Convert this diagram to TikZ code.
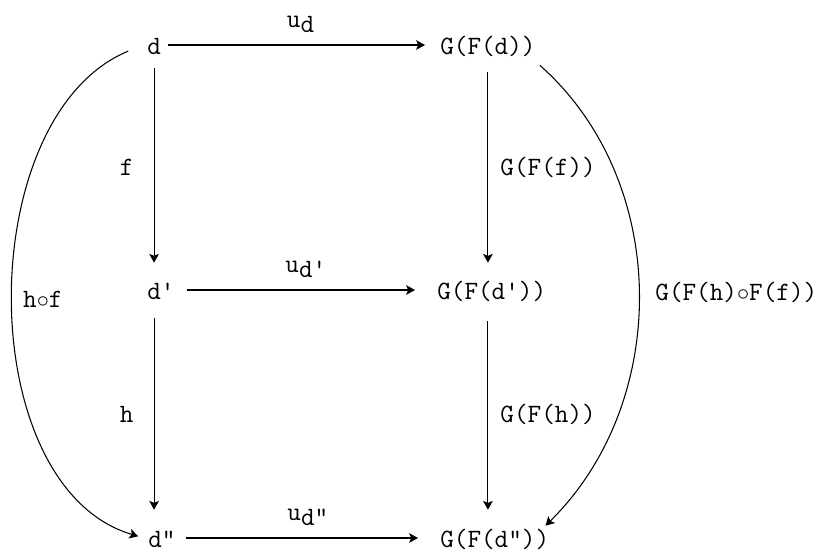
\documentclass[tikz,border=0pt]{standalone}
\usepackage{fontspec}
\usetikzlibrary{arrows.meta}

\begin{document}
\begin{tikzpicture}[font=\ttfamily\fontsize{18.8}{22}\selectfont,
  obj/.style={inner sep=0.1cm,text height=0.65cm,text depth=0.15cm,anchor=west},
  arr/.style={line width=0.75pt,-{Stealth[length=0.22cm,width=0.24cm,inset=0.05cm]}},
  lbl/.style={inner sep=0.1cm}]
\useasboundingbox (0,0) rectangle (20.775,13.85);
% objects
\node[obj] (d) at (3.575,12.725) {d};
\node[obj] (d1) at (3.575,6.6) {d'};
\node[obj] (d2) at (3.6,0.4) {d"};
\node[obj] (gd) at (10.9,12.725) {G(F(d))};
\node[obj] (gd1) at (10.825,6.6) {G(F(d'))};
\node[obj] (gd2) at (10.9,0.4) {G(F(d"))};
% unit arrows
\draw[arr,shorten <=0.075cm,shorten >=0.275cm] (d) -- (gd)
  node[lbl,midway,above=0.2cm] {u\raisebox{-0.2em}{d}};
\draw[arr,shorten <=0.2cm,shorten >=0.45cm] (d1) -- (gd1)
  node[lbl,midway,above=0.2cm] {u\raisebox{-0.2em}{d'}};
\draw[arr,shorten <=0.15cm,shorten >=0.45cm] (d2) -- (gd2)
  node[lbl,midway,above=0.2cm] {u\raisebox{-0.2em}{d"}};
% verticals
\draw[arr,shorten <=0.075cm,shorten >=0.175cm] (d.south) -- (d.south |- d1.north)
  node[lbl,midway,left=0.4cm] {f};
\draw[arr,shorten <=0.2cm,shorten >=0.2cm] (d1.south -| d.south) -- (d.south |- d2.north)
  node[lbl,midway,left=0.4cm] {h};
\draw[arr,shorten <=0.175cm,shorten >=0.175cm] (gd.south) -- (gd.south |- gd1.north)
  node[lbl,midway,right=0.2cm] {G(F(f))};
\draw[arr,shorten <=0.275cm,shorten >=0.2cm] (gd1.south -| gd.south) -- (gd.south |- gd2.north)
  node[lbl,midway,right=0.2cm] {G(F(h))};
% composites
\draw[arr,shorten <=0.4cm,shorten >=0.15cm] (d.west) .. controls +(202.5:4.63) and +(163.5:4.5) .. (d2.west)
  node[lbl,pos=0.5,right=0.1cm] {h$\circ$f};
\draw[arr] (gd.south east) .. controls +(318.5:4.375) and +(44.5:4.4) .. ([shift={(-0.2,-0.2)}]gd2.north east)
  node[lbl,pos=0.5,right=0.3cm] {G(F(h)$\circ$F(f))};
\end{tikzpicture}
\end{document}
